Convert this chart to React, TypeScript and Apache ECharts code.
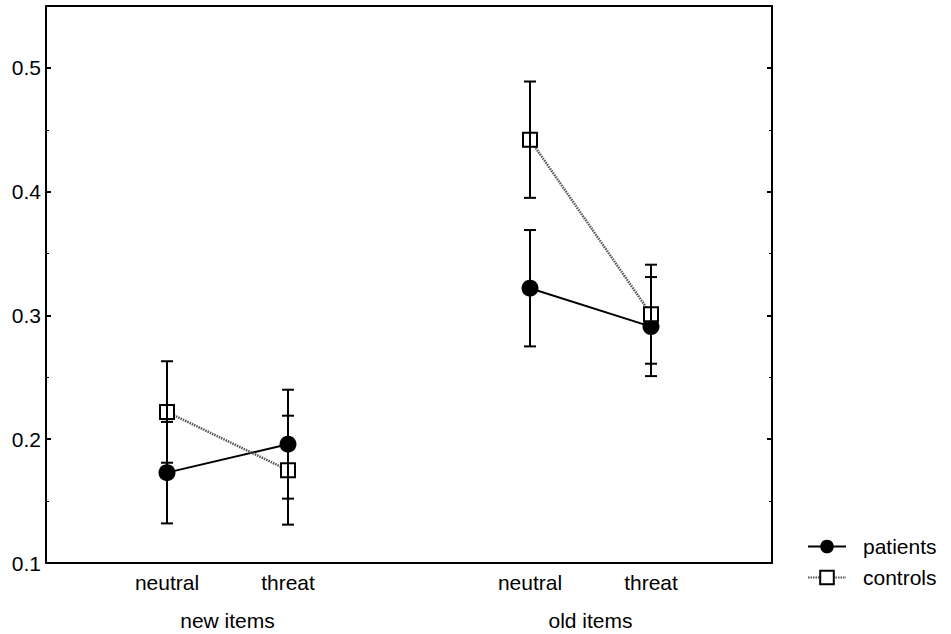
import React, { useEffect, useRef } from "react";
import * as echarts from "echarts";

const conditions = ["neutral", "threat", "neutral", "threat"];
const xPositions = [1, 2, 4, 5];
const groups = ["new items", "old items"];
const groupPositions = [1.5, 4.5];
const yTicks = [0.1, 0.2, 0.3, 0.4, 0.5];

const patientsMean = [0.173, 0.196, 0.322, 0.291];
const patientsErr = [0.041, 0.044, 0.047, 0.04];
const controlsMean = [0.222, 0.175, 0.442, 0.301];
const controlsErr = [0.041, 0.044, 0.047, 0.04];

const FONT = "'Liberation Sans', Arial, sans-serif";
const FS = 21;

function lineData(means: number[]) {
  const out: any[] = [];
  means.forEach((m, i) => {
    if (i === 2) out.push([3, "-"]);
    out.push([xPositions[i], m]);
  });
  return out;
}

function errData(means: number[], errs: number[]) {
  return means.map((m, i) => [xPositions[i], m - errs[i], m + errs[i]]);
}

const renderErr = (params: any, api: any) => {
  const xv = api.value(0);
  const lo = api.coord([xv, api.value(1)]);
  const hi = api.coord([xv, api.value(2)]);
  const cap = 6;
  const style = { stroke: "#000", lineWidth: 2 };
  return {
    type: "group",
    children: [
      { type: "line", shape: { x1: lo[0], y1: lo[1], x2: hi[0], y2: hi[1] }, style },
      { type: "line", shape: { x1: lo[0] - cap, y1: lo[1], x2: lo[0] + cap, y2: lo[1] }, style },
      { type: "line", shape: { x1: hi[0] - cap, y1: hi[1], x2: hi[0] + cap, y2: hi[1] }, style },
    ],
  };
};

export default function App() {
  const ref = useRef<HTMLDivElement>(null);
  useEffect(() => {
    if (!ref.current) return;
    const chart = echarts.init(ref.current, undefined, { renderer: "svg" });
    const axisLine = () => ({ show: true, onZero: false, lineStyle: { color: "#000", width: 2 } });
    const gridBox = { left: 46, right: 179, top: 6, bottom: 71 };
    const minorAxis = (position: string) => ({
      type: "value",
      gridIndex: 1,
      position,
      min: 0.1,
      max: 0.55,
      interval: 0.05,
      axisLine: { show: false, onZero: false },
      axisTick: { show: true, inside: true, length: 3, lineStyle: { color: "#000", width: 1 } },
      axisLabel: { show: false },
      splitLine: { show: false },
    });
    chart.setOption({
      animation: false,
      backgroundColor: "#fff",
      textStyle: { fontFamily: FONT, color: "#000" },
      grid: [gridBox, gridBox],
      xAxis: [
        {
          type: "value",
          gridIndex: 0,
          position: "bottom",
          min: 0,
          max: 6,
          interval: 1,
          axisLine: axisLine(),
          axisTick: { show: false },
          splitLine: { show: false },
          axisLabel: {
            color: "#000",
            fontSize: FS,
            fontFamily: FONT,
            margin: 9,
            showMinLabel: true,
            showMaxLabel: true,
            formatter: (v: number) => {
              const i = xPositions.indexOf(v);
              return i >= 0 ? conditions[i] : "";
            },
          },
        },
        {
          type: "value",
          gridIndex: 0,
          position: "top",
          min: 0,
          max: 6,
          axisLine: axisLine(),
          axisTick: { show: false },
          axisLabel: { show: false },
          splitLine: { show: false },
        },
        {
          type: "value",
          gridIndex: 1,
          position: "bottom",
          min: 0,
          max: 6,
          interval: 0.5,
          axisLine: { show: false, onZero: false },
          axisTick: { show: false },
          splitLine: { show: false },
          axisLabel: {
            color: "#000",
            fontSize: FS,
            fontFamily: FONT,
            margin: 47,
            formatter: (v: number) => {
              const i = groupPositions.indexOf(v);
              return i >= 0 ? groups[i] : "";
            },
          },
        },
      ],
      yAxis: [
        {
          type: "value",
          gridIndex: 0,
          position: "left",
          min: 0.1,
          max: 0.55,
          interval: 0.1,
          axisLine: axisLine(),
          axisTick: { show: true, inside: true, length: 5, lineStyle: { color: "#000", width: 2 } },
          splitLine: { show: false },
          axisLabel: {
            color: "#000",
            fontSize: FS,
            fontFamily: FONT,
            margin: 5,
            showMaxLabel: false,
            formatter: (v: number) => {
              const t = yTicks.find((k) => Math.abs(k - v) < 1e-6);
              return t !== undefined ? t.toFixed(1) : "";
            },
          },
        },
        {
          type: "value",
          gridIndex: 0,
          position: "right",
          min: 0.1,
          max: 0.55,
          interval: 0.1,
          axisLine: axisLine(),
          axisTick: { show: true, inside: true, length: 5, lineStyle: { color: "#000", width: 2 } },
          splitLine: { show: false },
          axisLabel: { show: false },
        },
        minorAxis("left"),
        minorAxis("right"),
      ],
      legend: {
        data: ["patients", "controls"],
        orient: "vertical",
        left: 802,
        top: 531,
        itemWidth: 38,
        itemHeight: 17,
        itemGap: 10,
        textStyle: { color: "#000", fontSize: FS, fontFamily: FONT, padding: [0, 0, 0, 12] },
      },
      series: [
        {
          name: "patients",
          type: "line",
          xAxisIndex: 0,
          yAxisIndex: 0,
          data: lineData(patientsMean),
          symbol: "circle",
          symbolSize: 17,
          itemStyle: { color: "#000", borderColor: "#000", borderWidth: 0 },
          lineStyle: { color: "#000", width: 2 },
          connectNulls: false,
          z: 2,
        },
        {
          name: "controls",
          type: "line",
          xAxisIndex: 0,
          yAxisIndex: 0,
          data: lineData(controlsMean),
          symbol: "rect",
          symbolSize: 14,
          itemStyle: { color: "#fff", borderColor: "#000", borderWidth: 2 },
          lineStyle: { color: "#555", width: 2.5, type: [1.5, 1] },
          connectNulls: false,
          z: 2,
        },
        {
          name: "patients err",
          type: "custom",
          xAxisIndex: 0,
          yAxisIndex: 0,
          data: errData(patientsMean, patientsErr),
          encode: { x: 0, y: [1, 2] },
          renderItem: renderErr,
          silent: true,
          z: 3,
        },
        {
          name: "controls err",
          type: "custom",
          xAxisIndex: 0,
          yAxisIndex: 0,
          data: errData(controlsMean, controlsErr),
          encode: { x: 0, y: [1, 2] },
          renderItem: renderErr,
          silent: true,
          z: 3,
        },
      ],
    });
    return () => chart.dispose();
  }, []);
  return (
    <div
      ref={ref}
      style={{ position: "absolute", left: 0, top: 0, width: 951, height: 634 }}
    />
  );
}
